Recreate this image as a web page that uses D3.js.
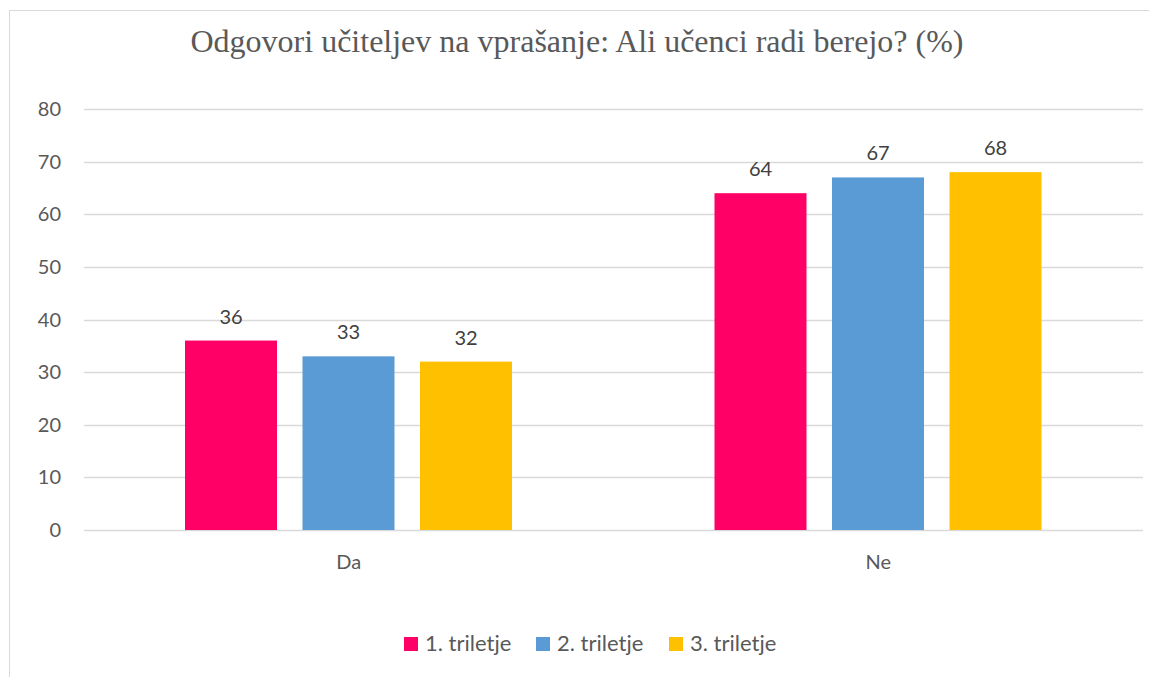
<!DOCTYPE html>
<html>
<head>
<meta charset="utf-8">
<script src="https://cdn.jsdelivr.net/npm/d3@7"></script>
<style>
  body { margin: 0; background: #fff; }
  text { font-family: Lato, "Open Sans", sans-serif; }
</style>
</head>
<body>
<div id="chart"></div>
<script>
// chart data
const categories = ['Da', 'Ne'];
const seriesNames = ['1. triletje', '2. triletje', '3. triletje'];
const values = [
  [36, 64],   // 1. triletje
  [33, 67],   // 2. triletje
  [32, 68]    // 3. triletje
];
const yTicks = [0, 10, 20, 30, 40, 50, 60, 70, 80];
const colors = ['#ff0066', '#5b9bd5', '#ffc000'];

const width = 1149, height = 677;
const margin = { left: 84, right: 6, top: 109, bottom: 147 };

const svg = d3.select('#chart').append('svg')
  .attr('width', width)
  .attr('height', height);

// outer frame
svg.append('rect')
  .attr('x', 9.5).attr('y', 10.5)
  .attr('width', 1160).attr('height', 700)
  .attr('fill', 'none')
  .attr('stroke', '#d9d9d9');

// title
svg.append('text')
  .attr('x', 577).attr('y', 52)
  .attr('text-anchor', 'middle')
  .style('font-family', '"Liberation Serif", "Times New Roman", serif')
  .style('font-size', '32px')
  .attr('fill', '#595959')
  .text('Odgovori učiteljev na vprašanje: Ali učenci radi berejo? (%)');

const y = d3.scaleLinear()
  .domain([0, 80])
  .range([height - margin.bottom, margin.top]);

const x0 = d3.scaleBand()
  .domain(categories)
  .range([margin.left, width - margin.right]);

const x1 = d3.scaleBand()
  .domain(d3.range(seriesNames.length))
  .range([101, 428])
  .paddingInner(0.217);

// gridlines
svg.append('g')
  .selectAll('line')
  .data(yTicks)
  .enter()
  .append('line')
  .attr('x1', margin.left)
  .attr('x2', width - margin.right)
  .attr('y1', d => Math.round(y(d)) + 0.5)
  .attr('y2', d => Math.round(y(d)) + 0.5)
  .attr('stroke', '#d9d9d9')
  .attr('stroke-width', 1.5);

// y tick labels
svg.append('g')
  .selectAll('text')
  .data(yTicks)
  .enter()
  .append('text')
  .attr('x', 61)
  .attr('y', d => y(d) + 7)
  .attr('text-anchor', 'end')
  .style('font-size', '20px')
  .attr('fill', '#595959')
  .text(d => d);

// bars
const groups = svg.append('g')
  .selectAll('g')
  .data(categories)
  .enter()
  .append('g')
  .attr('transform', d => `translate(${x0(d)},0)`);

groups.selectAll('rect')
  .data((d, ci) => seriesNames.map((s, si) => ({ si, v: values[si][ci] })))
  .enter()
  .append('rect')
  .attr('x', d => x1(d.si))
  .attr('width', x1.bandwidth())
  .attr('y', d => y(d.v))
  .attr('height', d => y(0) - y(d.v))
  .attr('fill', d => colors[d.si]);

groups.selectAll('text.val')
  .data((d, ci) => seriesNames.map((s, si) => ({ si, v: values[si][ci] })))
  .enter()
  .append('text')
  .attr('class', 'val')
  .attr('x', d => x1(d.si) + x1.bandwidth() / 2)
  .attr('y', d => y(d.v) - 17)
  .attr('text-anchor', 'middle')
  .style('font-size', '20px')
  .attr('fill', '#404040')
  .text(d => d.v);

// category labels
svg.append('g')
  .selectAll('text')
  .data(categories)
  .enter()
  .append('text')
  .attr('x', d => x0(d) + x0.bandwidth() / 2)
  .attr('y', 569)
  .attr('text-anchor', 'middle')
  .style('font-size', '20px')
  .attr('fill', '#595959')
  .text(d => d);

// legend
const legendX = [404, 536, 669];
const legendItems = svg.append('g')
  .selectAll('g')
  .data(seriesNames)
  .enter()
  .append('g')
  .attr('transform', (d, i) => `translate(${legendX[i]}, 637)`);

legendItems.append('rect')
  .attr('width', 14)
  .attr('height', 14)
  .attr('fill', (d, i) => colors[i]);

legendItems.append('text')
  .attr('x', 21)
  .attr('y', 14)
  .style('font-size', '22px')
  .attr('fill', '#595959')
  .text(d => d);
</script>
</body>
</html>
